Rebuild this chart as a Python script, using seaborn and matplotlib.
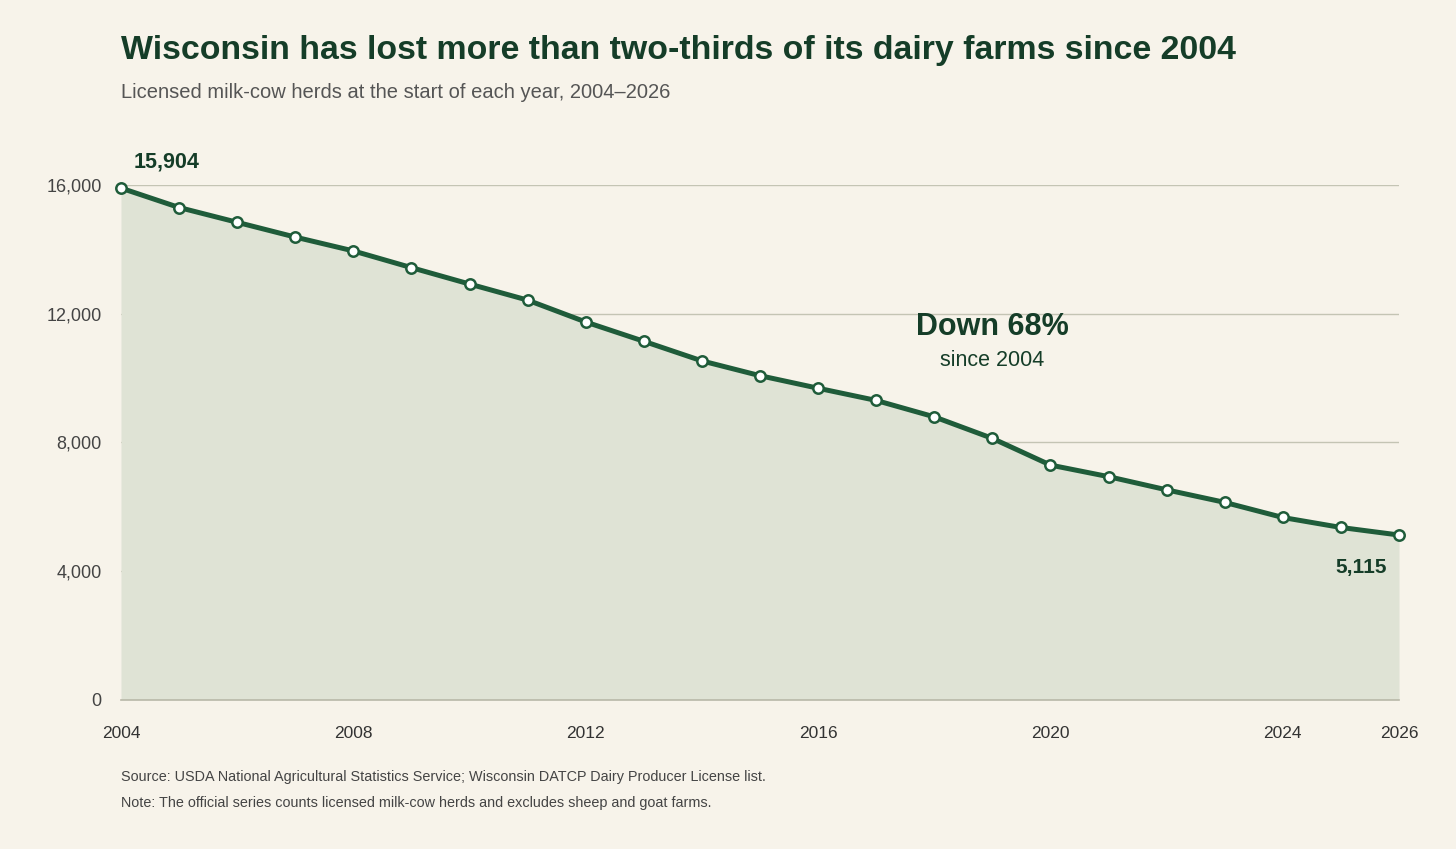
import pandas as pd
import matplotlib.pyplot as plt
import seaborn as sns
from matplotlib.ticker import FuncFormatter

# Data
years = list(range(2004, 2027))
herds = [15904, 15300, 14840, 14380, 13950, 13430, 12920, 12420, 11740, 11140,
         10530, 10070, 9680, 9300, 8790, 8120, 7290, 6930, 6520, 6130,
         5660, 5350, 5115]
y_ticks = [0, 4000, 8000, 12000, 16000]
x_ticks = [2004, 2008, 2012, 2016, 2020, 2024, 2026]

df = pd.DataFrame({'year': years, 'herds': herds})

bg = '#f7f3ea'
green = '#1f5c3a'
dark = '#153d28'
fill = '#dfe3d5'
grid = '#c4c4b4'

sns.set_theme(style="white")
plt.rcParams['font.family'] = ['Liberation Sans', 'DejaVu Sans']

fig = plt.figure(figsize=(14.56, 8.49), dpi=100, facecolor=bg)
ax = fig.add_axes([121 / 1456, 1 - 699.5 / 849, (1399 - 121) / 1456, (699.5 - 185) / 849])
ax.set_facecolor(bg)

ax.fill_between(df['year'], df['herds'], 0, color=fill, zorder=1, linewidth=0)
sns.lineplot(data=df, x='year', y='herds', ax=ax, color=green, linewidth=3.6,
             marker='o', markersize=7.5, markerfacecolor='white',
             markeredgecolor=green, markeredgewidth=1.8, zorder=3, clip_on=False)

ax.set_xlim(2004, 2026)
ax.set_ylim(0, 16000)
ax.set_yticks(y_ticks)
ax.set_xticks(x_ticks)
ax.yaxis.set_major_formatter(FuncFormatter(lambda v, p: f'{int(v):,}'))
ax.grid(axis='y', color=grid, linewidth=1, zorder=0)
ax.grid(axis='x', visible=False)
for s in ['top', 'right', 'left']:
    ax.spines[s].set_visible(False)
ax.spines['bottom'].set_color('#b8b8a8')
ax.spines['bottom'].set_linewidth(1.2)
ax.tick_params(axis='y', length=0, pad=14, labelsize=13, labelcolor='#444444')
ax.tick_params(axis='x', length=0, pad=19, labelsize=12.5, labelcolor='#333333')
ax.set_xlabel('')
ax.set_ylabel('')

# Annotations
ax.text(2004.22, herds[0] + 500, f'{herds[0]:,}', fontsize=15.5, fontweight='bold',
        color=dark, ha='left', va='bottom')
ax.text(2025.8, herds[-1] - 700, f'{herds[-1]:,}', fontsize=15, fontweight='bold',
        color=dark, ha='right', va='top')
ax.text(2019, 11580, 'Down 68%', fontsize=22, fontweight='bold', color=dark,
        ha='center', va='center')
ax.text(2019, 10550, 'since 2004', fontsize=15.5, color=dark, ha='center', va='center')

# Titles and notes
fig.text(121 / 1456, 1 - 50 / 849, 'Wisconsin has lost more than two-thirds of its dairy farms since 2004',
         fontsize=24.4, fontweight='bold', color=dark, ha='left', va='center')
fig.text(121 / 1456, 1 - 93 / 849, 'Licensed milk-cow herds at the start of each year, 2004–2026',
         fontsize=14.5, color='#555555', ha='left', va='center')
fig.text(121 / 1456, 1 - 777 / 849,
         'Source: USDA National Agricultural Statistics Service; Wisconsin DATCP Dairy Producer License list.',
         fontsize=10.4, color='#444444', ha='left', va='center')
fig.text(121 / 1456, 1 - 803 / 849,
         'Note: The official series counts licensed milk-cow herds and excludes sheep and goat farms.',
         fontsize=10.4, color='#444444', ha='left', va='center')

fig.savefig('out.png', dpi=100, facecolor=bg)
